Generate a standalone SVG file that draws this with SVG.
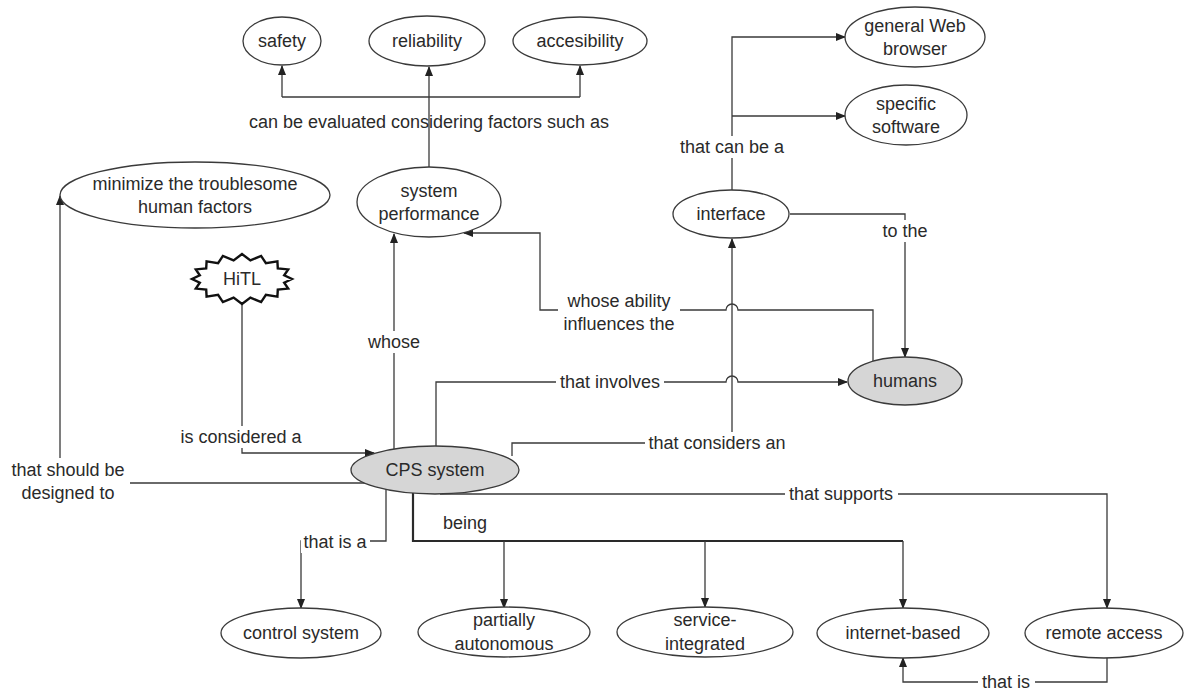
<svg xmlns="http://www.w3.org/2000/svg" width="1189" height="690" viewBox="0 0 1189 690">
<defs>
<marker id="ah" markerWidth="10" markerHeight="8" refX="9" refY="4" orient="auto" markerUnits="userSpaceOnUse">
<path d="M0,0 L10,4 L0,8 Z" fill="#222"/>
</marker>
<style>
text{font-family:"Liberation Sans",Arial,sans-serif;font-size:18px;fill:#2a2a2a;text-anchor:middle;dominant-baseline:central}
.n{fill:#fff;stroke:#3a3a3a;stroke-width:1.3}
.g{fill:#d6d6d6;stroke:#3a3a3a;stroke-width:1.3}
.c{fill:none;stroke:#3a3a3a;stroke-width:1.3}
.t{fill:none;stroke:#2a2a2a;stroke-width:2.2}
.a{marker-end:url(#ah)}
.bg{fill:#fff}
</style>
</defs>
<rect width="1189" height="690" fill="#fff"/>

<g id="connectors">
<path class="c a" d="M429,167 L429,67"/>
<path class="c a" d="M282,97 L282,66"/>
<path class="c a" d="M580,97 L580,66"/>
<path class="c" d="M282,97 L580,97"/>
<path class="c a" d="M732,190 L732,37 L845,37"/>
<path class="c a" d="M732,116 L845,116"/>
<path class="c a" d="M790,214 L905,214 L905,357"/>
<path class="c a" d="M512,456 L512,443 L732,443 L732,239"/>
<path class="c a" d="M436,446 L436,382 L726,382 A6,6 0 0 1 738,382 L847,382"/>
<path class="c a" d="M873,361 L873,310 L738,310 A6,6 0 0 0 726,310 L540,310 L540,233 L464,233"/>
<path class="c a" d="M394,449 L394,234"/>
<path class="c a" d="M242,304 L242,453 L374,453"/>
<path class="c a" d="M365,483 L60,483 L60,196"/>
<path class="c a" d="M386,489 L386,541 L301,541 L301,608"/>
<path class="t" d="M413,493 L413,541 L903,541"/>
<path class="c a" d="M903,541 L903,608"/>
<path class="c a" d="M504,541 L504,608"/>
<path class="c a" d="M705,541 L705,607"/>
<path class="c a" d="M440,494 L1107,494 L1107,608"/>
<path class="c a" d="M1107,656 L1107,682 L903,682 L903,658"/>

<text x="429" y="122">can be evaluated considering factors such as</text>
<rect class="bg" x="676" y="136" width="112" height="22"/>
<text x="732" y="147">that can be a</text>
<rect class="bg" x="880" y="220" width="52" height="22"/>
<text x="905" y="231">to the</text>
<rect class="bg" x="558" y="290" width="122" height="46"/>
<text x="619" y="301">whose ability</text>
<text x="619" y="324">influences the</text>
<rect class="bg" x="364" y="331" width="60" height="22"/>
<text x="394" y="342">whose</text>
<rect class="bg" x="556" y="371" width="108" height="22"/>
<text x="610" y="382">that involves</text>
<rect class="bg" x="645" y="432" width="144" height="22"/>
<text x="717" y="443">that considers an</text>
<rect class="bg" x="176" y="426" width="130" height="22"/>
<text x="241" y="437">is considered a</text>
<rect class="bg" x="6" y="458" width="124" height="46"/>
<text x="68" y="470">that should be</text>
<text x="68" y="493">designed to</text>
<rect class="bg" x="301" y="531" width="69" height="22"/>
<text x="335" y="542">that is a</text>
<text x="465" y="523">being</text>
<rect class="bg" x="785" y="483" width="113" height="22"/>
<text x="841" y="494">that supports</text>
<rect class="bg" x="978" y="671" width="57" height="22"/>
<text x="1006" y="682">that is</text>
</g>

<g id="safety"><ellipse class="n" cx="282" cy="41" rx="39" ry="24"/><text x="282" y="41">safety</text></g>
<g id="reliability"><ellipse class="n" cx="427" cy="41" rx="58" ry="25"/><text x="427" y="41">reliability</text></g>
<g id="accesibility"><ellipse class="n" cx="580" cy="41" rx="67" ry="24"/><text x="580" y="41">accesibility</text></g>
<g id="general-web-browser"><ellipse class="n" cx="915" cy="37" rx="70" ry="30"/><text x="915" y="26">general Web</text><text x="915" y="49">browser</text></g>
<g id="specific-software"><ellipse class="n" cx="906" cy="115" rx="61" ry="30"/><text x="906" y="104">specific</text><text x="906" y="127">software</text></g>
<g id="minimize"><ellipse class="n" cx="195" cy="195" rx="135" ry="33"/><text x="195" y="184">minimize the troublesome</text><text x="195" y="207">human factors</text></g>
<g id="system-performance"><ellipse class="n" cx="429" cy="202" rx="72" ry="35"/><text x="429" y="191">system</text><text x="429" y="214">performance</text></g>
<g id="interface"><ellipse class="n" cx="731" cy="214" rx="58" ry="24"/><text x="731" y="214">interface</text></g>
<g id="hitl"><polygon fill="#fff" stroke="#111" stroke-width="2.4" stroke-linejoin="miter" points="292,279 284.2,282.7 288.2,288.6 277.8,289.6 277.4,296.7 265.9,294.8 261.1,302.1 250.4,297.6 242,304 233.6,297.6 222.9,302.1 218.1,294.8 206.6,296.7 206.2,289.6 195.8,288.6 199.8,282.7 192,279 199.8,275.3 195.8,269.4 206.2,268.4 206.6,261.3 218.1,263.2 222.9,255.9 233.6,260.4 242,254 250.4,260.4 261.1,255.9 265.9,263.2 277.4,261.3 277.8,268.4 288.2,269.4 284.2,275.3"/><text x="242" y="279">HiTL</text></g>
<g id="humans"><ellipse class="g" cx="905" cy="381" rx="57" ry="24"/><text x="905" y="381">humans</text></g>
<g id="cps-system"><ellipse class="g" cx="435" cy="470" rx="84" ry="24"/><text x="435" y="470">CPS system</text></g>
<g id="control-system"><ellipse class="n" cx="301" cy="633" rx="80" ry="25"/><text x="301" y="633">control system</text></g>
<g id="partially-autonomous"><ellipse class="n" cx="504" cy="632" rx="86" ry="25"/><text x="504" y="620">partially</text><text x="504" y="644">autonomous</text></g>
<g id="service-integrated"><ellipse class="n" cx="705" cy="632" rx="88" ry="25"/><text x="705" y="620">service-</text><text x="705" y="644">integrated</text></g>
<g id="internet-based"><ellipse class="n" cx="903" cy="633" rx="86" ry="25"/><text x="903" y="633">internet-based</text></g>
<g id="remote-access"><ellipse class="n" cx="1104" cy="633" rx="79" ry="25"/><text x="1104" y="633">remote access</text></g>
</svg>
